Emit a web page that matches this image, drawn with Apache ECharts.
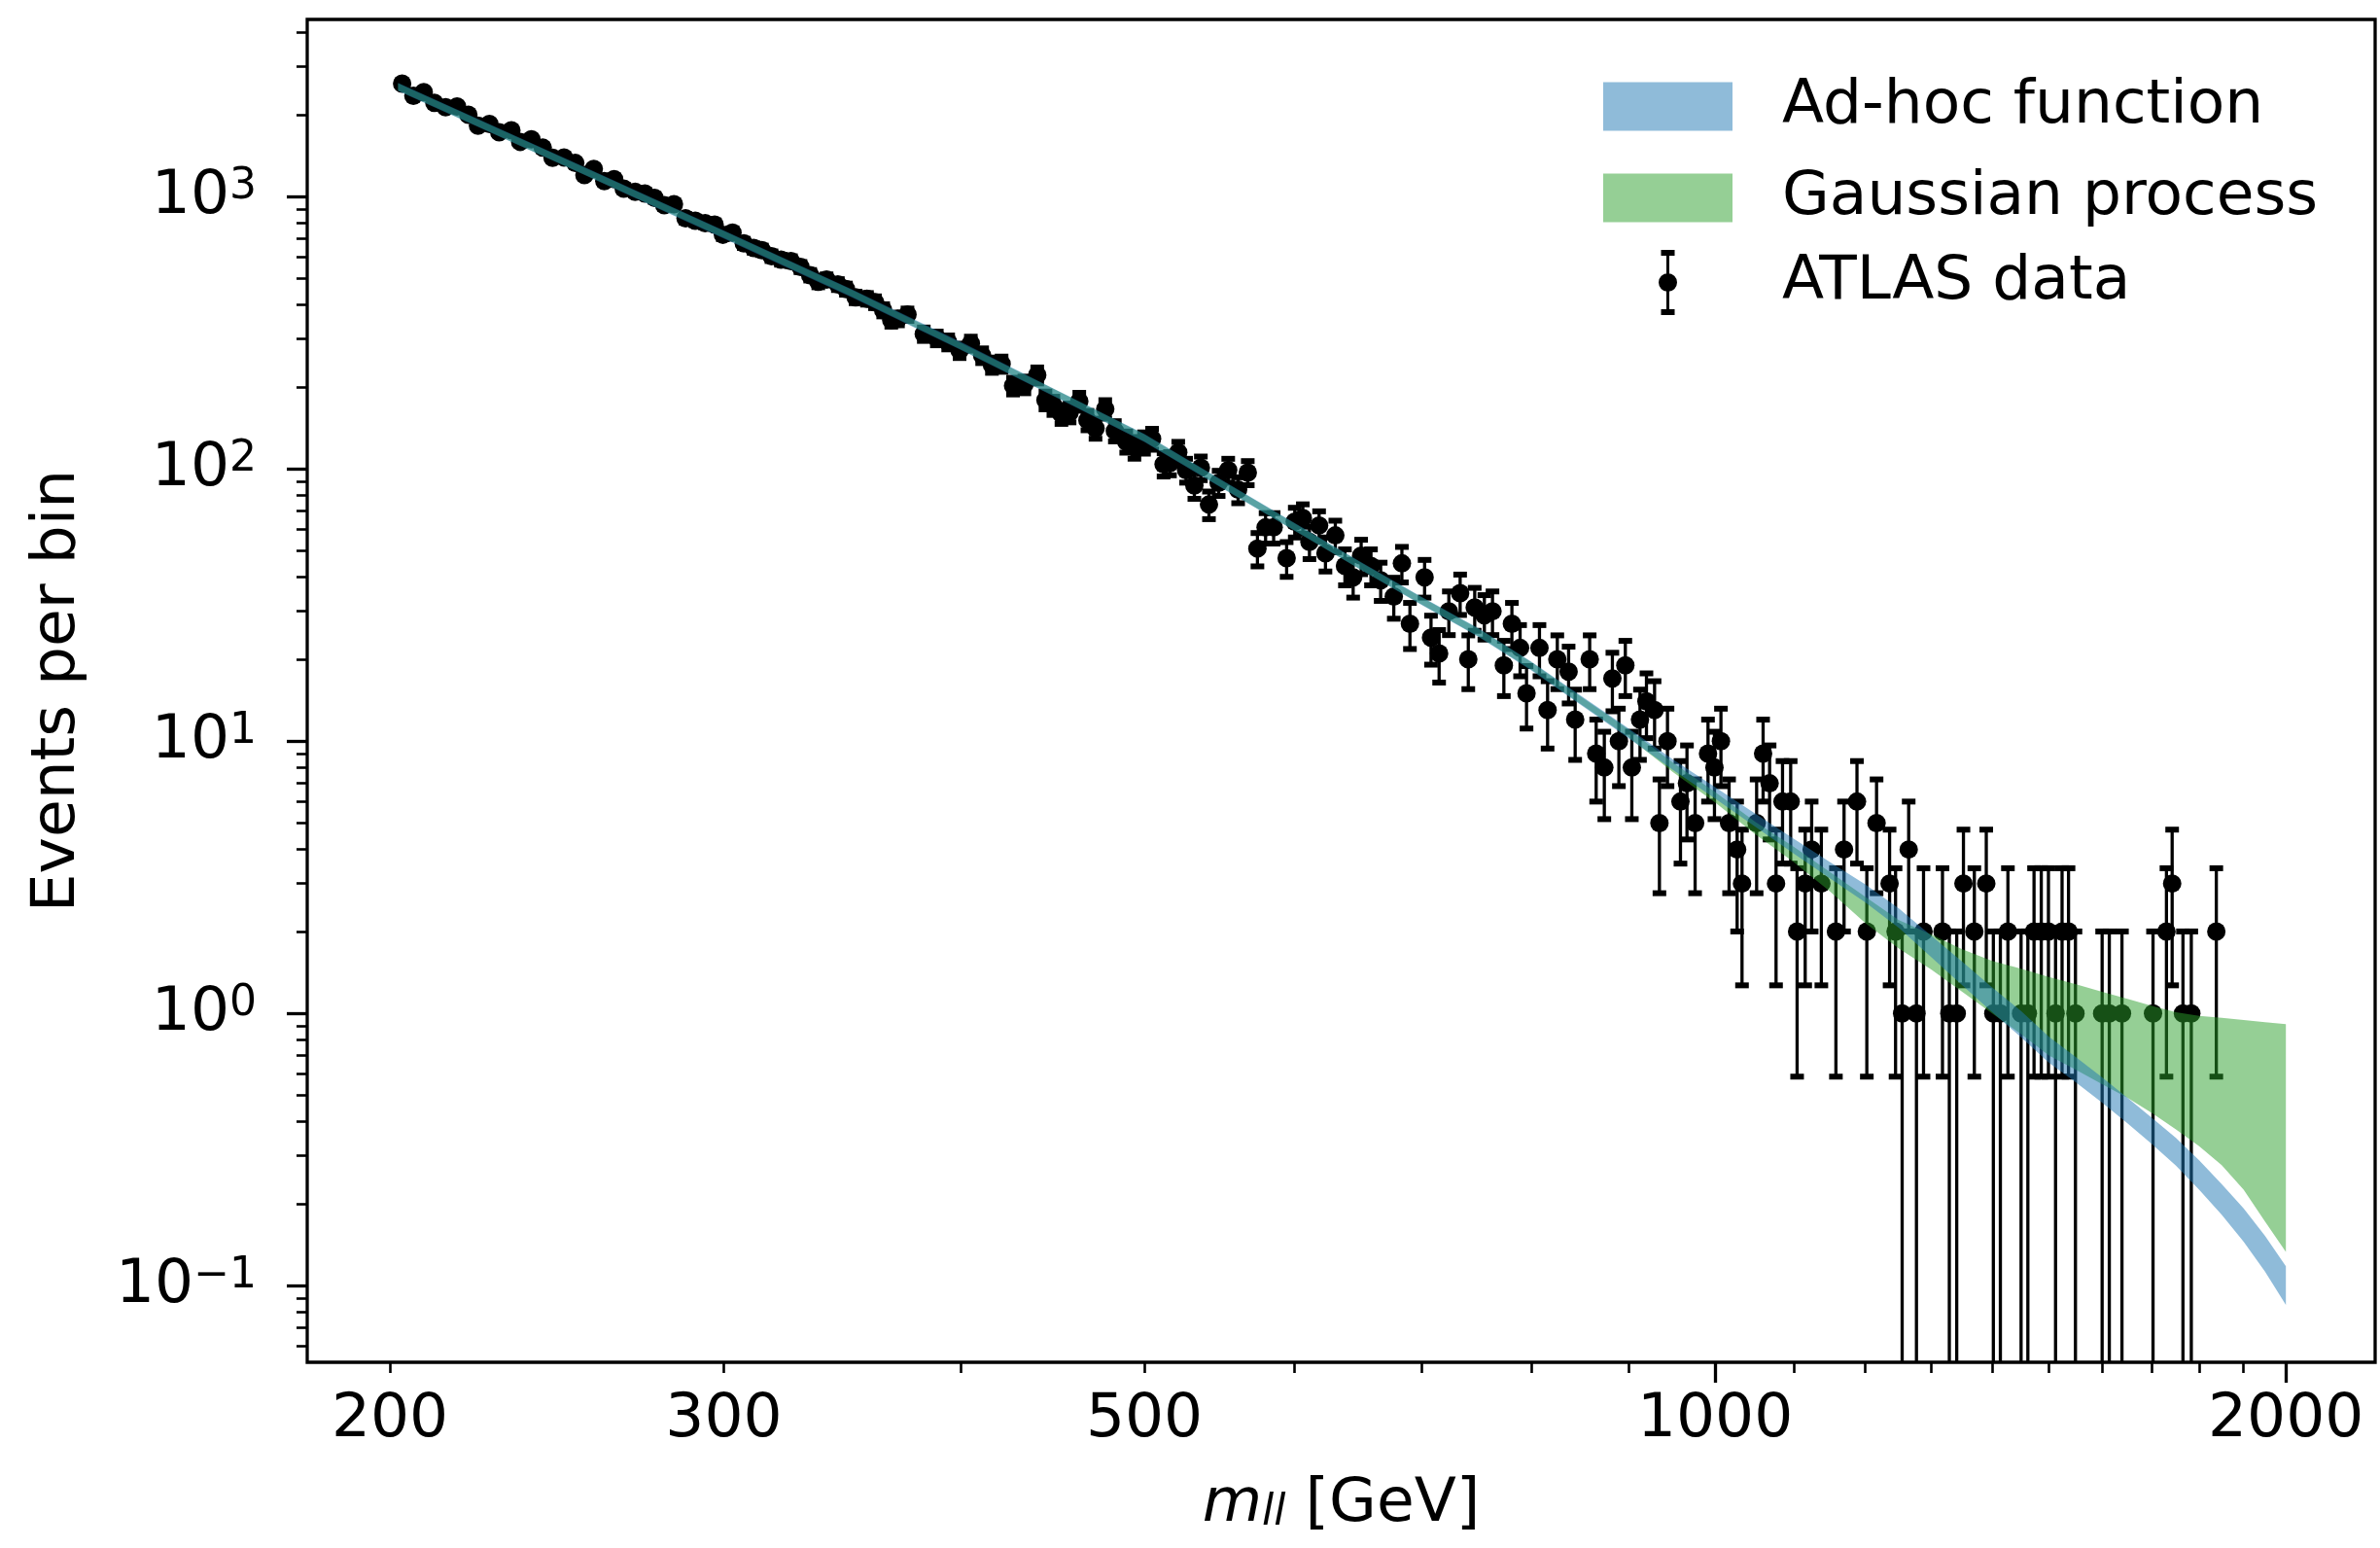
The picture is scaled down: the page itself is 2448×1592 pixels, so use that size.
<!DOCTYPE html>
<html>
<head>
<meta charset="utf-8">
<script src="https://cdn.jsdelivr.net/npm/echarts@6/dist/echarts.min.js"></script>
<style>
html,body{margin:0;padding:0;background:#ffffff;}
#chart{width:2448px;height:1592px;}
</style>
</head>
<body>
<div id="chart"></div>
<script>
// ---------------- data ----------------
const dataMass = [
  203.0, 205.8, 208.4, 211.1, 214.0, 217.0, 220.0, 222.6, 225.7, 228.4, 231.8, 234.3, 237.5, 240.8, 243.7, 247.1,
  250.5, 253.3, 256.2, 259.5, 262.6, 265.7, 269.4, 272.6, 275.8, 279.1, 282.4, 286.4, 289.8, 293.3, 296.7, 299.7,
  303.2, 307.4, 311.1, 314.2, 317.9, 321.6, 325.5, 329.3, 333.2, 336.5, 339.9, 344.6, 348.0, 352.1, 357.0, 360.5,
  364.1, 367.7, 370.7,
  375.0, 382.5, 388.6, 394.0, 399.5, 405.0, 410.6, 415.5, 420.4, 426.3, 432.2, 439.0, 443.4, 447.7, 452.1, 456.6,
  462.0, 466.6, 471.2, 476.8, 482.4, 489.1, 494.0, 499.8, 504.7, 511.8, 515.8, 521.0, 526.0, 531.3, 535.5, 540.8,
  547.2, 553.6, 560.3, 566.9, 573.6, 579.3, 585.0, 594.3, 600.2, 606.1, 611.0, 618.2, 623.0, 630.5, 637.9, 644.3,
  650.6, 658.4, 666.2,
  676.9, 683.6, 690.3, 702.7, 708.2, 715.2, 723.7, 733.7, 741.0, 746.8, 755.6, 763.1, 773.7, 781.3, 789.1, 795.3,
  807.9, 815.9, 825.6, 837.0, 843.7, 858.7, 865.5, 874.1, 882.7, 889.7, 896.7, 903.8, 912.8, 920.0, 929.1, 934.6,
  943.8, 958.8, 966.4, 976.0, 991.4, 999.2, 1007.1, 1017.1, 1027.1, 1033.2, 1051.7, 1060.0, 1068.4, 1076.8, 1085.3, 1096.1,
  1104.7, 1115.6, 1124.4, 1137.7, 1158.0, 1169.5, 1188.0, 1202.3, 1216.6, 1236, 1245, 1255, 1265, 1277, 1288, 1318,
  1329, 1341, 1352, 1370, 1390, 1402, 1414, 1427, 1450, 1462, 1473, 1486, 1499, 1512, 1524, 1536,
  1549, 1600, 1614, 1639, 1702, 1730, 1742, 1765, 1783, 1838
];
const dataCounts = [
  2601, 2346, 2422, 2211, 2133, 2146, 2000, 1824, 1849, 1726, 1755, 1590, 1625, 1514, 1391, 1394,
  1330, 1202, 1264, 1141, 1161, 1070, 1043, 1028, 991, 931, 938, 833, 816, 799, 790, 725,
  738, 674, 648, 636, 605, 587, 580, 552, 515, 487, 496, 476, 458, 427, 422, 410,
  383, 352, 356,
  369, 313, 302, 292, 272, 289, 261, 241, 243, 202, 204, 221, 179, 171, 159, 161,
  177, 151, 141, 166, 138, 126, 120, 125, 129, 104, 105, 115, 99, 87, 101, 74,
  89, 99, 84, 97, 51, 61, 61, 47, 64, 66, 54, 62, 49, 57, 44, 40,
  48, 44, 39,
  34, 45, 27, 40, 24, 21, 30, 35, 20, 31, 29, 30, 19, 27, 22, 15,
  22, 13, 20, 18, 12, 20, 9, 8, 17, 10, 19, 8, 12, 14, 13, 5,
  10, 6, 7, 5, 9, 8, 10, 5, 4, 3, 5, 9, 7, 3, 6, 6,
  2, 3, 4, 3, 2, 4, 6, 2, 5, 3, 2, 1, 4, 1, 2, 2,
  1, 1, 3, 2, 3, 1, 1, 2, 1, 1, 2, 2, 2, 1, 2, 2,
  1, 1, 1, 1, 1, 2, 3, 1, 1, 2
];

const bandMass = [202, 250, 300, 350, 400, 450, 500, 550, 600, 650, 700, 750, 800, 850, 900, 950, 1000, 1050, 1100,
  1150, 1200, 1250, 1300, 1350, 1400, 1450, 1500, 1550, 1600, 1650, 1700, 1750, 1800, 1850, 1900, 1950, 2000];
const adhocLow = [2447, 1253, 703, 429, 274, 182, 125.7, 84.7, 59.3, 42.7, 31.7, 24.2, 18.2, 13.55, 10.27, 7.85, 6.15, 4.85, 3.87,
  3.13, 2.56, 2.06, 1.61, 1.27, 1.01, 0.817, 0.658, 0.557, 0.470, 0.395, 0.331, 0.276, 0.225, 0.182, 0.145, 0.1125, 0.0849];
const adhocHigh = [2616, 1339, 752, 459, 293, 194, 134.4, 90.6, 63.4, 45.6, 33.9, 26.0, 19.6, 14.66, 11.15, 8.57, 6.78, 5.42, 4.38,
  3.59, 2.98, 2.43, 1.93, 1.55, 1.245, 1.02, 0.821, 0.691, 0.582, 0.49, 0.413, 0.349, 0.289, 0.236, 0.192, 0.1525, 0.1178];
const gpLow = [2456, 1257, 706, 431, 275, 182.5, 126.2, 85.0, 59.5, 42.8, 31.8, 24.3, 18.3, 13.65, 10.35, 7.7, 5.95, 4.55, 3.6,
  2.8, 2.15, 1.73, 1.45, 1.2, 1.0, 0.84, 0.70, 0.62, 0.55, 0.49, 0.43, 0.375, 0.325, 0.277, 0.225, 0.172, 0.133];
const gpHigh = [2606, 1334, 749, 457, 291, 193.6, 133.9, 90.2, 63.1, 45.4, 33.8, 25.9, 19.5, 14.55, 11.05, 8.35, 6.5, 5.05, 4.1,
  3.3, 2.68, 2.2, 1.95, 1.72, 1.56, 1.46, 1.36, 1.28, 1.20, 1.13, 1.065, 1.01, 0.98, 0.963, 0.945, 0.928, 0.914];

const xTickLabels = [200, 300, 500, 1000, 2000];
const xMajorTicks = [1000, 2000];
const xMinorTicks = [200, 300, 400, 500, 600, 700, 800, 900, 1100, 1200, 1300, 1400, 1500, 1600, 1700, 1800, 1900];
const yTickLabels = [0.1, 1, 10, 100, 1000];

// ---------------- layout / style ----------------
const FONT = 'DejaVu Sans';
const X_MIN = 180.9, X_MAX = 2229, Y_MIN = 0.0523, Y_MAX = 4478;
const yMinorTicks = [];
[0.01, 0.1, 1, 10, 100, 1000].forEach(function (d) {
  for (let k = 2; k <= 9; k++) {
    const v = +(k * d).toPrecision(3);
    if (v > Y_MIN && v < Y_MAX) yMinorTicks.push(v);
  }
});

const chart = echarts.init(document.getElementById('chart'), null, {renderer: 'canvas'});

function bandRenderer(low, high, color) {
  return function (params, api) {
    if (params.dataIndex !== 0) return null;
    const pts = [];
    for (let i = 0; i < bandMass.length; i++) pts.push(api.coord([bandMass[i], high[i]]));
    for (let i = bandMass.length - 1; i >= 0; i--) pts.push(api.coord([bandMass[i], low[i]]));
    return {type: 'polygon', shape: {points: pts}, style: {fill: color}, silent: true};
  };
}

function errorRenderer(params, api) {
  const m = api.value(0), v = api.value(1);
  const c = api.coord([m, v]);
  const e = Math.sqrt(v);
  const top = api.coord([m, v + e]);
  const cs = params.coordSys;
  const bottomY = cs.y + cs.height + 10;
  const hasLow = v - e > 0;
  const lowY = hasLow ? api.coord([m, v - e])[1] : bottomY;
  const capW = 14, capH = 6, lw = 3.3;
  const children = [
    {type: 'rect', shape: {x: c[0] - lw / 2, y: top[1], width: lw, height: lowY - top[1]}, style: {fill: '#000'}},
    {type: 'rect', shape: {x: c[0] - capW / 2, y: top[1] - capH / 2, width: capW, height: capH}, style: {fill: '#000'}},
    {type: 'circle', shape: {cx: c[0], cy: c[1], r: 9.5}, style: {fill: '#000'}}
  ];
  if (hasLow) children.push({type: 'rect', shape: {x: c[0] - capW / 2, y: lowY - capH / 2, width: capW, height: capH}, style: {fill: '#000'}});
  return {type: 'group', children: children};
}

const supText = function (v) {
  const e = Math.round(Math.log10(v));
  return '{b|10}{s|' + (e < 0 ? '\u2212' + (-e) : String(e)) + '}';
};

const blue = 'rgba(31,119,180,0.5)';
const green = 'rgba(44,160,44,0.5)';

const legendText = {fontFamily: FONT, fontSize: 63, color: '#000'};

const option = {
  animation: false,
  backgroundColor: '#ffffff',
  grid: {left: 316, right: 5, top: 20, bottom: 191, show: true, borderColor: '#000', borderWidth: 3.3, backgroundColor: 'transparent'},
  legend: [
    {data: [{name: 'Ad-hoc function', icon: 'rect', itemStyle: {color: blue}}], left: 1649, top: 78, padding: 0,
      itemWidth: 133, itemHeight: 50, selectedMode: false,
      textStyle: Object.assign({lineHeight: 50, padding: [0, 0, 0, 46]}, legendText)},
    {data: [{name: 'Gaussian process', icon: 'rect', itemStyle: {color: green}}], left: 1649, top: 172, padding: 0,
      itemWidth: 133, itemHeight: 50, selectedMode: false,
      textStyle: Object.assign({lineHeight: 50, padding: [0, 0, 0, 46]}, legendText)},
    {data: [{name: 'ATLAS data', itemStyle: {color: '#000'},
      icon: 'path://M2.5 0h14v6h-14z M8 0h3v67h-3z M2.5 61h14v6h-14z M0 33.5a9.5 9.5 0 1 1 19 0a9.5 9.5 0 1 1 -19 0z'}],
      left: 1706, top: 257, padding: 0, itemWidth: 19, itemHeight: 67, selectedMode: false,
      textStyle: Object.assign({lineHeight: 67, padding: [0, 0, 0, 103]}, legendText)}
  ],
  xAxis: [
    {type: 'log', logBase: 10, min: X_MIN, max: X_MAX, position: 'bottom',
      axisLine: {show: false}, splitLine: {show: false},
      axisTick: {show: true, customValues: xMinorTicks, length: 11, lineStyle: {color: '#000', width: 2.6}},
      axisLabel: {show: true, customValues: xTickLabels, margin: 28, color: '#000', fontFamily: FONT, fontSize: 63, lineHeight: 63,
        formatter: function (v) { return String(Math.round(v)); }},
      name: '{m|m}{s|ll}{t| [GeV]}', nameLocation: 'middle', nameGap: 115,
      nameTextStyle: {color: '#000', fontFamily: FONT, fontSize: 63, rich: {
        m: {fontFamily: FONT, fontSize: 63, fontStyle: 'italic', lineHeight: 63, color: '#000'},
        s: {fontFamily: FONT, fontSize: 44, fontStyle: 'italic', lineHeight: 30, verticalAlign: 'bottom', color: '#000'},
        t: {fontFamily: FONT, fontSize: 63, lineHeight: 63, color: '#000'}
      }}},
    {type: 'log', logBase: 10, min: X_MIN, max: X_MAX, position: 'bottom',
      axisLine: {show: false}, splitLine: {show: false},
      axisTick: {show: true, customValues: xMajorTicks, length: 21, lineStyle: {color: '#000', width: 3.3}},
      axisLabel: {show: false}}
  ],
  yAxis: [
    {type: 'log', logBase: 10, min: Y_MIN, max: Y_MAX, position: 'left',
      axisLine: {show: false}, splitLine: {show: false},
      axisTick: {show: true, customValues: yTickLabels, length: 21, lineStyle: {color: '#000', width: 3.3}},
      axisLabel: {show: true, customValues: yTickLabels, margin: 52, color: '#000', fontFamily: FONT,
        formatter: supText,
        rich: {
          b: {fontFamily: FONT, fontSize: 63, lineHeight: 63, color: '#000'},
          s: {fontFamily: FONT, fontSize: 44, lineHeight: 24, verticalAlign: 'top', color: '#000'}
        }},
      name: 'Events per bin', nameLocation: 'middle', nameGap: 225, nameRotate: 90,
      nameTextStyle: {color: '#000', fontFamily: FONT, fontSize: 63, lineHeight: 63}},
    {type: 'log', logBase: 10, min: Y_MIN, max: Y_MAX, position: 'left',
      axisLine: {show: false}, splitLine: {show: false},
      axisTick: {show: true, customValues: yMinorTicks, length: 11, lineStyle: {color: '#000', width: 2.6}},
      axisLabel: {show: false}}
  ],
  series: [
    {name: 'ATLAS data', type: 'custom', xAxisIndex: 0, yAxisIndex: 0, z: 2, clip: true,
      renderItem: errorRenderer, encode: {x: 0, y: 1},
      data: dataMass.map(function (m, i) { return [m, dataCounts[i]]; })},
    {name: 'Gaussian process', type: 'custom', xAxisIndex: 0, yAxisIndex: 0, z: 3, clip: true,
      renderItem: bandRenderer(gpLow, gpHigh, green), encode: {x: 0, y: [1, 2]},
      itemStyle: {color: green},
      data: bandMass.map(function (m, i) { return [m, gpLow[i], gpHigh[i]]; })},
    {name: 'Ad-hoc function', type: 'custom', xAxisIndex: 0, yAxisIndex: 0, z: 4, clip: true,
      renderItem: bandRenderer(adhocLow, adhocHigh, blue), encode: {x: 0, y: [1, 2]},
      itemStyle: {color: blue},
      data: bandMass.map(function (m, i) { return [m, adhocLow[i], adhocHigh[i]]; })}
  ]
};
chart.setOption(option);
</script>
</body>
</html>
